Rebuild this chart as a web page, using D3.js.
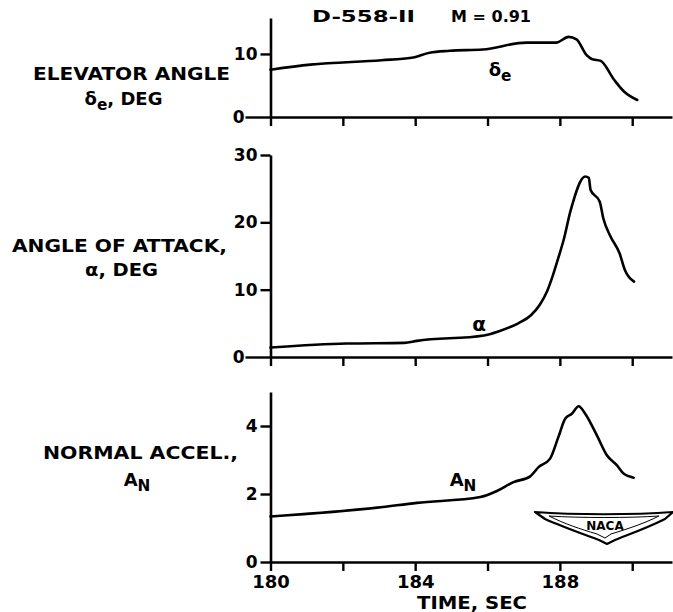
<!DOCTYPE html>
<html><head><meta charset="utf-8">
<script src="https://cdn.jsdelivr.net/npm/d3@7"></script>
<style>
html,body{margin:0;padding:0;background:#fff;}
svg text{font-family:"DejaVu Sans",sans-serif;font-weight:bold;fill:#000;}
</style></head>
<body><svg id="c" width="673" height="612"></svg>
<script>
// ---- data ----
const timeTicks = [180,182,184,186,188,190];
const timeLabels = [180,184,188];

const elevTime = [180,181.1,183.07,183.9,184.4,184.95,185.87,187.07,187.9,188.24,188.46,188.74,188.88,189.13,189.5,189.78,190.14];
const elevDeg  = [7.5,8.3,9.0,9.4,10.2,10.5,10.7,11.8,11.8,12.7,12.3,9.8,9.2,8.9,5.9,4.0,2.7];
const elevTicks = [0,10];

const alphaTime = [180,182.1,183.7,184.05,185.9,186.3,186.85,187.2,187.45,187.65,187.8,187.95,188.1,188.3,188.7,188.8,188.85,189.1,189.2,189.4,189.65,189.8,190.05];
const alphaDeg  = [1.4,2.0,2.1,2.4,3.2,3.8,5.0,6.2,7.8,9.8,12.0,14.6,17.3,21.8,26.8,26.6,24.8,23.1,20.6,17.9,15.4,12.9,11.2];
const alphaTicks = [0,10,20,30];

const anTime = [180,182.95,184.05,185.8,186.26,186.72,187.18,187.41,187.73,187.96,188.15,188.33,188.52,188.7,189.02,189.3,189.58,189.76,190.04];
const anG    = [1.34,1.6,1.74,1.91,2.09,2.35,2.52,2.79,3.04,3.68,4.22,4.36,4.58,4.36,3.73,3.14,2.84,2.6,2.48];
const anTicks = [0,2,4];

// ---- layout ----
const svg = d3.select("#c");
const x = d3.scaleLinear().domain([180,191.1]).range([270.5,672]);

const panels = [
  {t:elevTime, v:elevDeg, ticks:elevTicks, dom:[0,15.7], rng:[117,18], zeroLong:true},
  {t:alphaTime, v:alphaDeg, ticks:alphaTicks, dom:[0,30], rng:[357,155], zeroLong:true},
  {t:anTime, v:anG, ticks:anTicks, dom:[0,5], rng:[562,392], zeroLong:false, labels:true}
];

panels.forEach(p=>{
  const y = d3.scaleLinear().domain(p.dom).range(p.rng);
  // x axis
  const xa = d3.axisBottom(x).tickValues(timeTicks).tickSize(9).tickSizeOuter(0)
    .tickFormat(d => p.labels && timeLabels.includes(d) ? d : "");
  const gx = svg.append("g").attr("transform",`translate(0,${y(0)})`).call(xa);
  gx.select(".domain").attr("stroke","#000").attr("stroke-width",2.6);
  gx.selectAll(".tick line").attr("stroke","#000").attr("stroke-width",2.4);
  gx.selectAll(".tick text").attr("font-size",18).attr("y",13).attr("dy","0.71em");
  // y axis
  const ya = d3.axisLeft(y).tickValues(p.ticks).tickSize(10).tickSizeOuter(0).tickPadding(3)
    .tickFormat(d3.format("d"));
  const gy = svg.append("g").attr("transform",`translate(${x(180)},0)`).call(ya);
  gy.select(".domain").attr("stroke","#000").attr("stroke-width",2.6);
  gy.selectAll(".tick line").attr("stroke","#000").attr("stroke-width",2.4);
  gy.selectAll(".tick text").attr("font-size",17);
  if (p.zeroLong) {
    gy.selectAll(".tick").filter(d=>d===0).select("line").attr("x2",-25);
    gy.selectAll(".tick").filter(d=>d===0).select("text").attr("x",-26);
  }
  // curve
  const line = d3.line().x((d,i)=>x(p.t[i])).y(d=>y(d)).curve(d3.curveMonotoneX);
  svg.append("path").datum(p.v).attr("d",line)
    .attr("fill","none").attr("stroke","#000").attr("stroke-width",2.6)
    .attr("stroke-linejoin","round").attr("stroke-linecap","round");
});

// ---- texts ----
function txt(s,xx,yy,fs,w){
  const t = svg.append("text").attr("x",xx).attr("y",yy).attr("font-size",fs)
    .attr("text-anchor","middle").text(s);
  if (w) t.attr("textLength",w).attr("lengthAdjust","spacingAndGlyphs");
  return t;
}
function sub(t,main,subs,fs){
  t.append("tspan").text(main);
  t.append("tspan").attr("font-size",fs*0.85).attr("dy",fs*0.3).text(subs);
}

txt("D-558-II",363.5,22,16,103);
txt("M = 0.91",491,22,16,80);

txt("ELEVATOR ANGLE",131.5,80,18,197);
{ const t = txt("",123.5,105,18); sub(t,"δ","e",18); t.append("tspan").attr("dy",-18*0.3).text(", DEG"); }

txt("ANGLE OF ATTACK,",119.5,252,18,215);
txt("α, DEG",121.5,276,18,73);

txt("NORMAL ACCEL.,",140.5,459,18,195);
{ const t = txt("",137,486,18); sub(t,"A","N",18); }

txt("TIME, SEC",472,609,18,110);

// in-plot curve labels
{ const t = txt("",500,76,18); sub(t,"δ","e",18); }
txt("α",479,331,20);
{ const t = txt("",463,486,18); sub(t,"A","N",18); }

// NACA wing emblem
const logo = svg.append("g").attr("transform","translate(535,512)");
logo.append("path")
  .attr("d","M0,0 C40,3 98,3 138,0 L130,7 C112,16 95,22 80,28 L72,32 L64,28 C48,22 28,15 10,7 Z")
  .attr("fill","none").attr("stroke","#000").attr("stroke-width",2.2).attr("stroke-linejoin","round");
logo.append("path")
  .attr("d","M14,4 C45,6 95,6 124,4 C108,12 92,17 76,22 L70,26 L62,22 C45,17 30,12 14,4 Z")
  .attr("fill","none").attr("stroke","#000").attr("stroke-width",1);
logo.append("text").attr("x",70).attr("y",18).attr("font-size",12).attr("text-anchor","middle")
  .attr("font-family","Liberation Sans Narrow, Liberation Sans, sans-serif").text("NACA");
</script></body></html>
